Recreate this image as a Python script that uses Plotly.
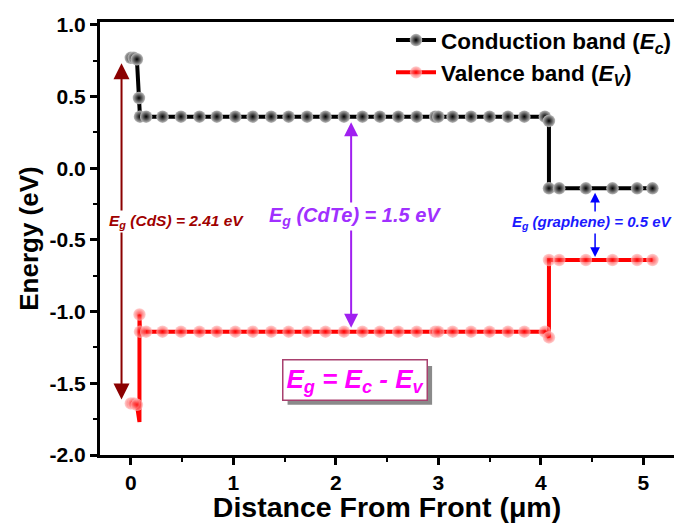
import plotly.graph_objects as go

# ---------------- data ----------------
distance_cb = [0.00, 0.03, 0.06, 0.08, 0.09, 0.15, 0.31, 0.49, 0.67, 0.84, 1.02, 1.19, 1.37,
               1.54, 1.72, 1.90, 2.08, 2.26, 2.43, 2.61, 2.79, 2.97, 3.00, 3.14, 3.32, 3.50,
               3.68, 3.84, 4.04, 4.08, 4.08, 4.18, 4.44, 4.70, 4.94, 5.09]
energy_cb = [0.77, 0.77, 0.76, 0.49, 0.36, 0.36, 0.36, 0.36, 0.36, 0.36, 0.36, 0.36, 0.36,
             0.36, 0.36, 0.36, 0.36, 0.36, 0.36, 0.36, 0.36, 0.36, 0.36, 0.36, 0.36, 0.36,
             0.36, 0.36, 0.36, 0.33, -0.14, -0.14, -0.14, -0.14, -0.14, -0.14]

distance_vb = [0.00, 0.03, 0.06, 0.085, 0.085, 0.09, 0.15, 0.31, 0.49, 0.67, 0.84, 1.02, 1.19,
               1.37, 1.54, 1.72, 1.90, 2.08, 2.26, 2.43, 2.61, 2.79, 2.97, 3.00, 3.14, 3.32,
               3.50, 3.68, 3.84, 4.04, 4.08, 4.08, 4.18, 4.44, 4.70, 4.94, 5.09]
energy_vb = [-1.64, -1.64, -1.65, -1.77, -1.02, -1.14, -1.14, -1.14, -1.14, -1.14, -1.14, -1.14,
             -1.14, -1.14, -1.14, -1.14, -1.14, -1.14, -1.14, -1.14, -1.14, -1.14, -1.14, -1.14,
             -1.14, -1.14, -1.14, -1.14, -1.14, -1.14, -1.18, -0.64, -0.64, -0.64, -0.64, -0.64,
             -0.64]

# band-gap annotations: (label, gap value, x position, Ec, Ev)
gap_cds = ("CdS", 2.41, -0.09, 0.77, -1.64)
gap_cdte = ("CdTe", 1.5, 2.15, 0.36, -1.14)
gap_graphene = ("graphene", 0.5, 4.53, -0.14, -0.64)

xtick_vals = [0, 1, 2, 3, 4, 5]
xtick_labels = ["0", "1", "2", "3", "4", "5"]
ytick_vals = [1.0, 0.5, 0.0, -0.5, -1.0, -1.5, -2.0]
ytick_labels = ["1.0", "0.5", "0.0", "-0.5", "-1.0", "-1.5", "-2.0"]

FONT = "Arial, Liberation Sans, sans-serif"

# marker size per point (the interface spike point has no visible marker)
vb_sizes = [12.5] * len(distance_vb)
vb_sizes[3] = 0

fig = go.Figure()
fig.add_trace(go.Scatter(
    x=distance_cb, y=energy_cb, mode="lines+markers",
    name="Conduction band (<i>E<sub>c</sub></i>)", legendgroup="cb",
    line=dict(color="black", width=4),
    marker=dict(color="#bdbdbd", size=12.5, line=dict(width=0),
                gradient=dict(type="radial", color="black")),
))
fig.add_trace(go.Scatter(
    x=distance_vb, y=energy_vb, mode="lines+markers",
    name="Valence band (<i>E<sub>V</sub></i>)", legendgroup="vb",
    line=dict(color="#ff0000", width=4),
    marker=dict(color="#ffc0c0", size=vb_sizes, line=dict(width=0),
                gradient=dict(type="radial", color="#ff0000")),
))

annotations = []


def gap_arrow(gap, color, width, head_size, standoff):
    _, _, xg, ec, ev = gap
    annotations.append(dict(
        x=xg, y=ev, ax=xg, ay=ec, xref="x", yref="y", axref="x", ayref="y",
        text="", showarrow=True, arrowhead=2, startarrowhead=2, arrowside="end+start",
        arrowsize=head_size, startarrowsize=head_size, arrowwidth=width, arrowcolor=color,
        standoff=standoff, startstandoff=standoff,
    ))


gap_arrow(gap_cds, "#8b0000", 2, 1.6, 4)
gap_arrow(gap_cdte, "#a020f0", 2, 1.4, 4)
gap_arrow(gap_graphene, "#0000ff", 1.5, 1.3, 3)

annotations.append(dict(
    x=0.45, y=-0.37, xref="x", yref="y", showarrow=False, bgcolor="white",
    text=f"<b><i>E<sub>g</sub> (CdS) = {gap_cds[1]:.2f} eV</i></b>",
    font=dict(family=FONT, size=15.5, color="#a00000"),
))
annotations.append(dict(
    x=2.19, y=-0.34, xref="x", yref="y", showarrow=False, bgcolor="white",
    text=f"<b><i>E<sub>g</sub> (CdTe) = {gap_cdte[1]:.1f} eV</i></b>",
    font=dict(family=FONT, size=20, color="#a030ff"),
))
annotations.append(dict(
    x=4.50, y=-0.38, xref="x", yref="y", showarrow=False, bgcolor="white",
    text=f"<b><i>E<sub>g</sub> (graphene) = {gap_graphene[1]:.1f} eV</i></b>",
    font=dict(family=FONT, size=15, color="#1a1aff"),
))
# formula box (its drop shadow is a grey rectangle drawn underneath)
box_text = "<b><i>E<sub>g</sub> = E<sub>c</sub> - E<sub>v</sub></i></b>"
annotations.append(dict(
    x=2.19, y=-1.48, xref="x", yref="y", showarrow=False,
    text=box_text, bgcolor="white", bordercolor="#a8406e", borderwidth=1.5, borderpad=3,
    font=dict(family=FONT, size=26, color="#ff00ff"),
))
shadow = dict(type="rect", xref="x", yref="y", x0=1.53, x1=2.94, y0=-1.65, y1=-1.38,
              fillcolor="#8a8a8a", line=dict(width=0), layer="above")

fig.update_layout(
    width=676, height=523,
    margin=dict(l=100, r=0, t=22, b=68),
    plot_bgcolor="white", paper_bgcolor="white",
    font=dict(family=FONT, color="black"),
    showlegend=True,
    legend=dict(x=0.507, y=1.007, xanchor="left", yanchor="top", bgcolor="rgba(0,0,0,0)",
                font=dict(family=FONT, size=22.5, color="black", weight="bold"),
                tracegroupgap=0, itemwidth=40),
    annotations=annotations,
    shapes=[shadow],
    xaxis=dict(
        range=[-0.3, 5.3], showgrid=False, zeroline=False, automargin=False,
        showline=True, linecolor="black", linewidth=3, mirror=True,
        ticks="outside", ticklen=7, tickwidth=3, tickcolor="black",
        tickvals=xtick_vals, ticktext=xtick_labels,
        minor=dict(tickmode="linear", tick0=0.5, dtick=1, ticks="outside", ticklen=4,
                   tickwidth=2, tickcolor="black"),
        tickfont=dict(family=FONT, size=21, color="black", weight="bold"),
        title=dict(text="Distance From Front (μm)", standoff=1,
                   font=dict(family=FONT, size=28.5, color="black", weight="bold")),
    ),
    yaxis=dict(
        range=[-2.0, 1.02], showgrid=False, zeroline=False, automargin=False,
        showline=True, linecolor="black", linewidth=3, mirror=False,
        ticks="outside", ticklen=7, tickwidth=3, tickcolor="black",
        tickvals=ytick_vals, ticktext=ytick_labels,
        minor=dict(tickmode="linear", tick0=0.25, dtick=0.5, ticks="outside", ticklen=4,
                   tickwidth=2, tickcolor="black"),
        tickfont=dict(family=FONT, size=21, color="black", weight="bold"),
        title=dict(text="Energy (eV)", standoff=4,
                   font=dict(family=FONT, size=26, color="black", weight="bold")),
    ),
)

fig.write_html("out.html", config={"displayModeBar": False},
               post_script="document.body.style.margin='0';")
